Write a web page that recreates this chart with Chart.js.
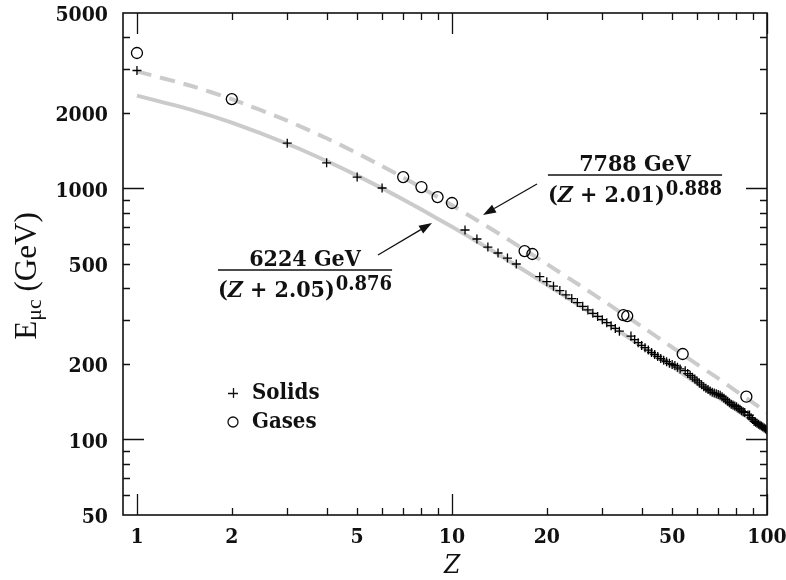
<!DOCTYPE html>
<html>
<head>
<meta charset="utf-8">
<script src="https://cdn.jsdelivr.net/npm/chart.js@4.4.1/dist/chart.umd.min.js"></script>
<style>
  html, body { margin: 0; padding: 0; background: #fff; }
  #wrap { width: 786px; height: 580px; position: relative; }
</style>
</head>
<body>
<div id="wrap"><canvas id="grafico"></canvas></div>
<script>
// ─── Dados ───────────────────────────────────────────
const SOLIDS_Z = [1, 3, 4, 5, 6, 11, 12, 13, 14, 15, 16,
  19, 20, 21, 22, 23, 24, 25, 26, 27, 28, 29, 30, 31, 32, 33, 34,
  37, 38, 39, 40, 41, 42, 43, 44, 45, 46, 47, 48, 49, 50, 51, 52, 53,
  55, 56, 57, 58, 59, 60, 61, 62, 63, 64, 65, 66, 67, 68, 69, 70,
  71, 72, 73, 74, 75, 76, 77, 78, 79, 80, 81, 82, 83, 84, 85,
  87, 88, 89, 90, 91, 92, 93, 94, 95, 96, 97, 98, 99, 100];
const SOLIDS_E = [2950, 1515, 1265, 1110, 1004, 683, 629, 584, 553, 528, 500,
  445, 425, 408, 392, 377, 364, 351, 339, 328, 318, 309, 300, 292, 284, 277, 270,
  258, 250, 243, 237, 232, 227, 222, 218, 214, 210, 207, 204, 201, 199, 197, 194, 191,
  188, 183, 180, 177, 174, 171, 168, 165, 162, 160, 158, 156, 154, 153, 152, 151,
  150, 148, 146, 144, 142, 140, 138, 137, 136, 135, 133, 132, 130, 129, 128,
  125, 125, 122, 120, 118, 117, 116, 115, 114, 113, 112, 111, 110, 109];

const GASES_Z = [1, 2, 7, 8, 9, 10, 17, 18, 35, 36, 54, 86];
const GASES_E = [3465, 2270, 1110, 1013, 924, 875, 563, 548, 313, 310, 219, 148];

// curvas de ajuste
const FIT_Z      = [1, 1.5, 2, 3, 4, 5, 6, 7, 8, 10, 12, 15, 20, 25, 30, 40, 50, 60, 70, 80, 90, 100];
const FIT_SOLIDS = [2343, 2052, 1828, 1507, 1286, 1125, 1001, 904, 824, 703, 615, 519, 414, 346, 299, 235, 195, 167, 147, 131, 118.5, 108];
const FIT_GASES  = [2927, 2554, 2269, 1862, 1584, 1382, 1227, 1106, 1007, 857, 747, 629, 500, 417, 359, 282, 233, 199, 175, 155.5, 140.5, 128];

// ticks
const X_TICKS = [1, 2, 5, 10, 20, 50, 100];
const Y_TICKS = [50, 100, 200, 500, 1000, 2000, 5000];
const X_MAJOR = [1, 10, 100];
const X_MINOR = [2, 3, 4, 5, 6, 7, 8, 9, 20, 30, 40, 50, 60, 70, 80, 90];
const Y_MAJOR = [100, 1000];
const Y_MINOR = [60, 70, 80, 90, 200, 300, 400, 500, 600, 700, 800, 900, 2000, 3000, 4000];

// ─── Estilo ──────────────────────────────────────────
const SERIF_B = '"DejaVu Serif Condensed", "DejaVu Serif", serif';
const CINZA   = '#cbcbcb';
const PRETO   = '#111';

const pares = (xs, ys) => xs.map((x, i) => ({ x, y: ys[i] }));

// ─── Moldura + ticks internos (todas as faces) ───────
const molduraPlugin = {
  id: 'moldura',
  afterDatasetsDraw(chart) {
    const { ctx, chartArea: a, scales: { x, y } } = chart;
    ctx.save();
    ctx.strokeStyle = PRETO;
    ctx.lineWidth = 1.3;
    const tickX = (vals, len) => vals.forEach(v => {
      const px = Math.round(x.getPixelForValue(v)) + 0.5;
      ctx.beginPath();
      ctx.moveTo(px, a.bottom); ctx.lineTo(px, a.bottom - len);
      ctx.moveTo(px, a.top);    ctx.lineTo(px, a.top + len);
      ctx.stroke();
    });
    const tickY = (vals, len) => vals.forEach(v => {
      const py = Math.round(y.getPixelForValue(v)) + 0.5;
      ctx.beginPath();
      ctx.moveTo(a.left, py);  ctx.lineTo(a.left + len, py);
      ctx.moveTo(a.right, py); ctx.lineTo(a.right - len, py);
      ctx.stroke();
    });
    tickX(X_MAJOR, 21); tickX(X_MINOR, 7);
    tickY(Y_MAJOR, 21); tickY(Y_MINOR, 7);
    ctx.lineWidth = 1.6;
    ctx.strokeRect(a.left, a.top, a.right - a.left, a.bottom - a.top);
    ctx.restore();
  }
};

// ─── Anotações: títulos, fórmulas, setas, legenda ────
function seta(ctx, x1, y1, x2, y2) {
  const ang = Math.atan2(y2 - y1, x2 - x1);
  const L = 13, W = 4.5;
  const bx = x2 - L * Math.cos(ang), by = y2 - L * Math.sin(ang);
  ctx.beginPath();
  ctx.moveTo(x1, y1); ctx.lineTo(bx, by);
  ctx.stroke();
  ctx.beginPath();
  ctx.moveTo(x2, y2);
  ctx.lineTo(bx + W * Math.sin(ang), by - W * Math.cos(ang));
  ctx.lineTo(bx - W * Math.sin(ang), by + W * Math.cos(ang));
  ctx.closePath();
  ctx.fill();
}

function fracao(ctx, cx, yLinha, num, soma, expo) {
  const fMain = `bold 23px ${SERIF_B}`;
  const fItal = `italic bold 23px ${SERIF_B}`;
  const fExp  = `bold 20px ${SERIF_B}`;
  // denominador em pedaços
  const partes = [
    { t: '(', f: fMain }, { t: 'Z', f: fItal }, { t: ' + ' + soma + ')', f: fMain }
  ];
  let larg = 0;
  partes.forEach(p => { ctx.font = p.f; p.w = ctx.measureText(p.t).width; larg += p.w; });
  ctx.font = fExp;
  const wExp = ctx.measureText(expo).width;
  const total = larg + wExp + 1;
  let x = cx - total / 2;
  ctx.textBaseline = 'alphabetic';
  ctx.textAlign = 'left';
  partes.forEach(p => { ctx.font = p.f; ctx.fillText(p.t, x, yLinha + 27); x += p.w; });
  ctx.font = fExp;
  ctx.fillText(expo, x + 1, yLinha + 20);
  // linha
  ctx.lineWidth = 1.4;
  ctx.beginPath();
  ctx.moveTo(cx - total / 2, yLinha); ctx.lineTo(cx + total / 2, yLinha);
  ctx.stroke();
  // numerador
  ctx.font = fMain;
  ctx.textAlign = 'center';
  ctx.fillText(num, cx, yLinha - 4);
}

const anotacoesPlugin = {
  id: 'anotacoes',
  afterDraw(chart) {
    const { ctx, chartArea: a } = chart;
    ctx.save();
    ctx.fillStyle = PRETO;
    ctx.strokeStyle = PRETO;

    // título do eixo y: E_μc (GeV)
    ctx.save();
    ctx.translate(36, 276);
    ctx.rotate(-Math.PI / 2);
    ctx.textBaseline = 'alphabetic';
    const fT = '31px "Liberation Serif", "Times New Roman", serif';
    const fS = '22px "Liberation Serif", "Times New Roman", serif';
    ctx.font = fT; const wE = ctx.measureText('E').width;
    const wR = ctx.measureText(' (GeV)').width;
    ctx.font = fS; const wS = ctx.measureText('μc').width;
    let tx = -(wE + wS + wR) / 2;
    ctx.textAlign = 'left';
    ctx.font = fT; ctx.fillText('E', tx, 0); tx += wE;
    ctx.font = fS; ctx.fillText('μc', tx, 5); tx += wS;
    ctx.font = fT; ctx.fillText(' (GeV)', tx, 0);
    ctx.restore();

    // título do eixo x
    ctx.font = `italic 26px ${SERIF_B}`;
    ctx.textAlign = 'center';
    ctx.textBaseline = 'alphabetic';
    ctx.fillText('Z', (a.left + a.right) / 2 + 7, 573);

    // fórmulas
    fracao(ctx, 305, 270, '6224 GeV', '2.05', '0.876');
    fracao(ctx, 635, 175, '7788 GeV', '2.01', '0.888');

    // setas
    ctx.lineWidth = 1.3;
    seta(ctx, 378, 255, 432, 223);
    seta(ctx, 537, 184, 483, 215);

    // legenda
    ctx.lineWidth = 1.3;
    ctx.beginPath();
    ctx.moveTo(228, 393.5); ctx.lineTo(238, 393.5);
    ctx.moveTo(233.5, 388); ctx.lineTo(233.5, 398);
    ctx.stroke();
    ctx.beginPath();
    ctx.arc(233, 422, 5, 0, Math.PI * 2);
    ctx.stroke();
    ctx.font = `bold 22px ${SERIF_B}`;
    ctx.textAlign = 'left';
    ctx.textBaseline = 'middle';
    ctx.fillText('Solids', 252, 393);
    ctx.fillText('Gases', 252, 422);
    ctx.restore();
  }
};

// ─── Gráfico ─────────────────────────────────────────
const fonteTicks = { family: SERIF_B, size: 21, weight: 'bold' };

new Chart(document.getElementById('grafico'), {
  type: 'scatter',
  data: {
    datasets: [
      {
        label: 'Solids',
        data: pares(SOLIDS_Z, SOLIDS_E),
        pointStyle: 'cross',
        pointRadius: 4.5,
        borderColor: '#000',
        borderWidth: 1.3,
        showLine: false,
        order: 0,
      },
      {
        label: 'Gases',
        data: pares(GASES_Z, GASES_E),
        pointStyle: 'circle',
        pointRadius: 5.5,
        borderColor: '#000',
        backgroundColor: 'rgba(0,0,0,0)',
        borderWidth: 1.3,
        showLine: false,
        order: 0,
      },
      {
        label: 'Ajuste sólidos',
        data: pares(FIT_Z, FIT_SOLIDS),
        showLine: true,
        pointRadius: 0,
        borderColor: CINZA,
        borderWidth: 4,
        tension: 0.2,
        order: 2,
      },
      {
        label: 'Ajuste gases',
        data: pares(FIT_Z, FIT_GASES),
        showLine: true,
        pointRadius: 0,
        borderColor: CINZA,
        borderWidth: 4,
        borderDash: [15, 9],
        tension: 0.2,
        order: 2,
      },
    ],
  },
  options: {
    responsive: true,
    maintainAspectRatio: false,
    animation: false,
    layout: { padding: { top: 13, right: 19, left: 0, bottom: 0 } },
    plugins: { legend: { display: false }, tooltip: { enabled: false } },
    scales: {
      x: {
        type: 'logarithmic',
        min: 0.903,
        max: 100,
        grid: { display: false, drawTicks: false },
        border: { display: false },
        ticks: {
          font: fonteTicks, color: PRETO, padding: 10,
          autoSkip: false, maxRotation: 0,
          callback: v => String(v),
        },
        afterBuildTicks: ax => { ax.ticks = X_TICKS.map(v => ({ value: v })); },
        afterFit: ax => {
          ax.height = 65;
          ax.paddingLeft = 0; ax.paddingRight = 0;
        },
      },
      y: {
        type: 'logarithmic',
        min: 50,
        max: 5000,
        grid: { display: false, drawTicks: false },
        border: { display: false },
        ticks: {
          font: fonteTicks, color: PRETO, padding: 15, labelOffset: 3,
          autoSkip: false,
          callback: v => String(v),
        },
        afterBuildTicks: ax => { ax.ticks = Y_TICKS.map(v => ({ value: v })); },
        afterFit: ax => {
          ax.width = 123;
          ax.paddingTop = 0; ax.paddingBottom = 0;
        },
      },
    },
  },
  plugins: [molduraPlugin, anotacoesPlugin],
});
</script>
</body>
</html>
